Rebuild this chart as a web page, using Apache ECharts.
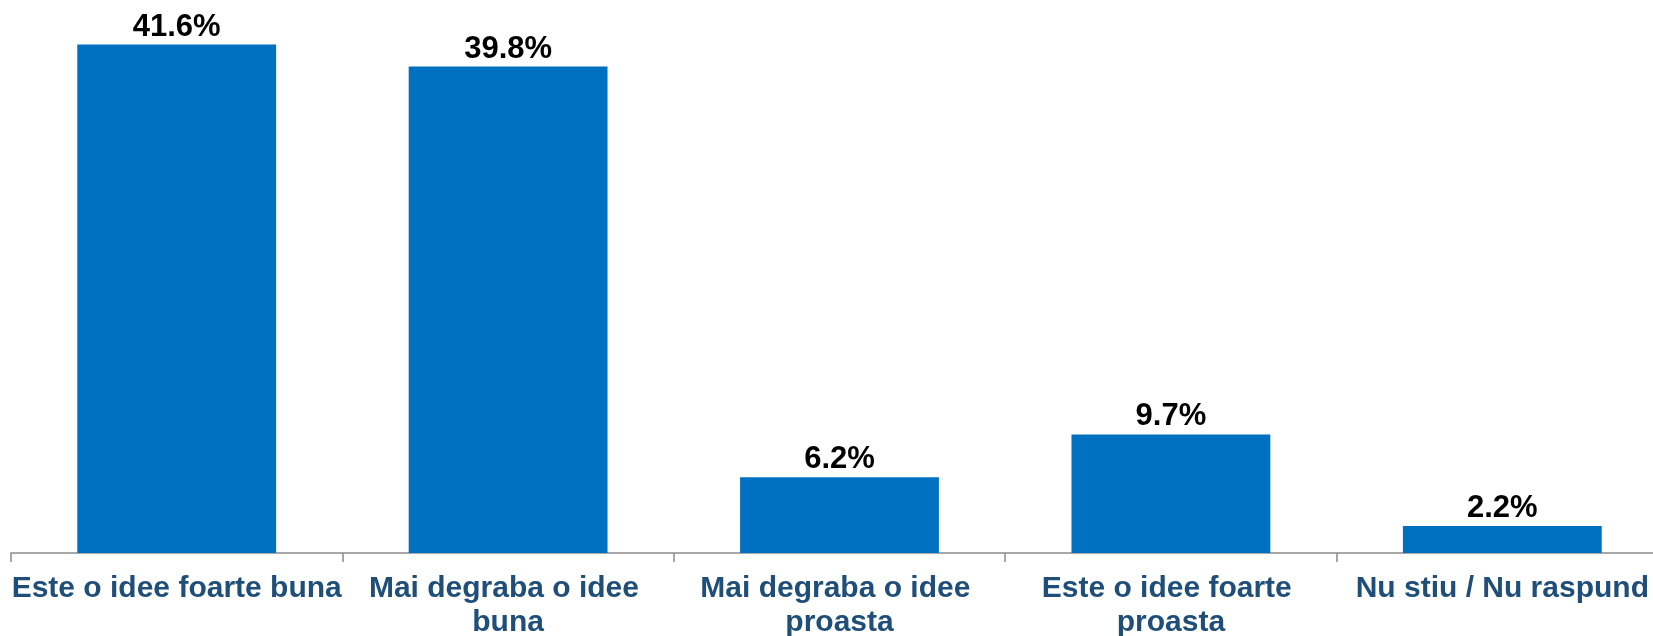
<!DOCTYPE html>
<html>
<head>
<meta charset="utf-8">
<script src="https://cdn.jsdelivr.net/npm/echarts@6/dist/echarts.min.js"></script>
<style>
  html, body { margin: 0; padding: 0; background: #fff; }
  #chart { width: 1653px; height: 636px; }
</style>
</head>
<body>
<div id="chart"></div>
<script>
const categories = [
  'Este o idee foarte buna',
  'Mai degraba o idee buna',
  'Mai degraba o idee proasta',
  'Este o idee foarte proasta',
  'Nu stiu / Nu raspund'
]
const values = [41.6, 39.8, 6.2, 9.7, 2.2]

const chart = echarts.init(document.getElementById('chart'))

chart.setOption({
  animation: false,
  grid: { left: 11, top: 3, bottom: 83, right: -15, outerBoundsMode: 'none', containLabel: false },
  xAxis: {
    type: 'category',
    data: categories,
    axisLine: { lineStyle: { color: '#8c8c8c', width: 1.5 } },
    axisTick: { show: true, length: 9, lineStyle: { color: '#8c8c8c', width: 1.5 } },
    axisLabel: {
      interval: 0,
      margin: 19,
      width: 340,
      overflow: 'break',
      hideOverlap: false,
      color: '#1f4e79',
      fontFamily: 'Liberation Sans, Arial, sans-serif',
      fontWeight: 'bold',
      fontSize: 30,
      lineHeight: 34
    }
  },
  yAxis: {
    type: 'value',
    min: 0,
    max: 45,
    show: false,
    splitLine: { show: false }
  },
  series: [{
    type: 'bar',
    data: values,
    barCategoryGap: '40%',
    itemStyle: { color: '#0070c0' },
    label: {
      show: true,
      position: 'top',
      distance: 2,
      formatter: p => p.value.toFixed(1) + '%',
      color: '#000',
      fontFamily: 'Liberation Sans, Arial, sans-serif',
      fontWeight: 'bold',
      fontSize: 31
    }
  }]
})
</script>
</body>
</html>
